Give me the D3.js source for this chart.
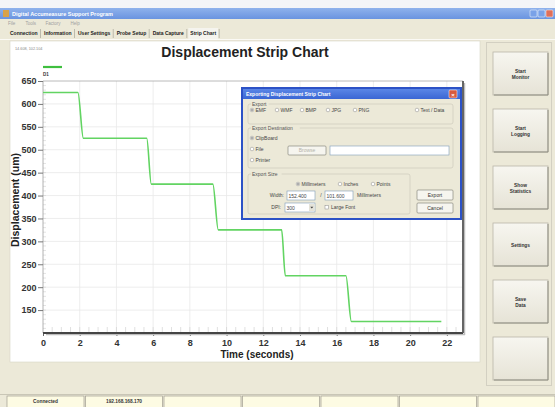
<!DOCTYPE html>
<html>
<head>
<meta charset="utf-8">
<script src="https://cdn.jsdelivr.net/npm/d3@7"></script>
<style>
  body { margin: 0; background: #ece9d8; }
  svg { display: block; font-family: "Liberation Sans", Arial, sans-serif; }
</style>
</head>
<body>
<svg id="chart" width="555" height="407"></svg>
<script>
// --- Data ---
const timeSec = [0, 1.9, 2.2, 5.65, 5.9, 9.25, 9.55, 13.0, 13.2, 16.5, 16.8, 21.7];
const dispUm  = [625, 625, 525, 525, 425, 425, 325, 325, 225, 225, 125, 125];
const yTicks = [150, 200, 250, 300, 350, 400, 450, 500, 550, 600, 650];
const xTicks = [0, 2, 4, 6, 8, 10, 12, 14, 16, 18, 20, 22];
const menuItems = ["File", "Tools", "Factory", "Help"];
const tabNames = ["Connection", "Information", "User Settings", "Probe Setup", "Data Capture", "Strip Chart"];
const sideButtons = [["Start", "Monitor"], ["Start", "Logging"], ["Show", "Statistics"], ["Settings"], ["Save", "Data"], []];
const statusCells = ["Connected", "192.168.168.170", "", "", "", "", ""];
const exportFormats = ["EMF", "WMF", "BMP", "JPG", "PNG", "Text / Data"];
const destinations = ["ClipBoard", "File", "Printer"];
const sizeUnits = ["Millimeters", "Inches", "Points"];

const svg = d3.select("#chart");
const defs = svg.append("defs");

function grad(id, c1, c2) {
  const g = defs.append("linearGradient").attr("id", id)
    .attr("x1", 0).attr("y1", 0).attr("x2", 0).attr("y2", 1);
  g.append("stop").attr("offset", "0%").attr("stop-color", c1);
  g.append("stop").attr("offset", "100%").attr("stop-color", c2);
}
grad("titleGrad", "#8fb2ec", "#6a94e0");
grad("dlgGrad", "#5a86e6", "#3a66d4");
grad("btnGrad", "#f7f6f0", "#e6e3d6");

// --- Window chrome ---
svg.append("rect").attr("width", 555).attr("height", 407).attr("fill", "#ece9d8");
svg.append("rect").attr("width", 555).attr("height", 8).attr("fill", "#f4f5f8");
svg.append("rect").attr("y", 8).attr("width", 555).attr("height", 11).attr("fill", "url(#titleGrad)");
svg.append("rect").attr("x", 3).attr("y", 10).attr("width", 6).attr("height", 7).attr("fill", "#d9a24a");
svg.append("text").attr("x", 12).attr("y", 16).attr("fill", "#fff")
  .style("font-size", "5.5px").style("font-weight", "bold")
  .text("Digital Accumeasure Support Program");
[["#7aa2e8", 534], ["#7aa2e8", 542], ["#e0705a", 550]].forEach(([c, bx]) => {
  svg.append("rect").attr("x", bx - 4).attr("y", 10).attr("width", 7).attr("height", 7)
    .attr("rx", 1).attr("fill", c).attr("stroke", "#fff").attr("stroke-width", 0.5);
});

// menu
let mx = 8;
menuItems.forEach(m => {
  svg.append("text").attr("x", mx).attr("y", 24.5).attr("fill", "#a0a0a0")
    .style("font-size", "4.5px").text(m);
  mx += m.length * 2.6 + 7;
});

// tabs, laid out one after another
svg.append("line").attr("x1", 0).attr("x2", 555).attr("y1", 39.5).attr("y2", 39.5).attr("stroke", "#fbfaf5");
let tx = 10;
tabNames.forEach((t, i) => {
  const bg = svg.append("rect").attr("y", 28).attr("height", 11).attr("fill", "#f5f4ee")
    .style("display", i === tabNames.length - 1 ? null : "none");
  const label = svg.append("text").attr("x", tx).attr("y", 35).attr("fill", "#222")
    .style("font-size", "5px").style("font-weight", "bold").text(t);
  const w = label.node().getComputedTextLength();
  bg.attr("x", tx - 2).attr("width", w + 4);
  svg.append("line").attr("x1", tx + w + 3).attr("x2", tx + w + 3).attr("y1", 29).attr("y2", 38)
    .attr("stroke", "#a8a69a").attr("stroke-width", 0.7);
  tx += w + 6.5;
});

// white chart panel
svg.append("rect").attr("x", 10).attr("y", 41).attr("width", 470).attr("height", 321)
  .attr("fill", "#fff").attr("stroke", "#d8d5c6").attr("stroke-width", 0.6);

// right button panel
svg.append("rect").attr("x", 486.5).attr("y", 42.5).attr("width", 65).attr("height", 343)
  .attr("fill", "#ece9d8").attr("stroke", "#d3d0c2");
sideButtons.forEach((lines, i) => {
  const by = 52 + i * 57;
  svg.append("rect").attr("x", 493).attr("y", by).attr("width", 55).attr("height", 43)
    .attr("fill", "url(#btnGrad)").attr("stroke", "#b9b6a8").attr("stroke-width", 0.8);
  svg.append("line").attr("x1", 494).attr("x2", 548).attr("y1", by + 43).attr("y2", by + 43)
    .attr("stroke", "#8f8d82").attr("stroke-width", 1);
  svg.append("line").attr("x1", 548).attr("x2", 548).attr("y1", by + 1).attr("y2", by + 43)
    .attr("stroke", "#8f8d82").attr("stroke-width", 1);
  lines.forEach((l, j) => {
    svg.append("text").attr("x", 520.5).attr("y", by + 22 + (j - (lines.length - 1) / 2) * 5.5 + 1.8)
      .attr("text-anchor", "middle").attr("fill", "#333")
      .style("font-size", "4.8px").style("font-weight", "bold").text(l);
  });
});

// status bar
svg.append("line").attr("x1", 0).attr("x2", 555).attr("y1", 394.5).attr("y2", 394.5).attr("stroke", "#c9c6b6");
statusCells.forEach((s, i) => {
  const cx = 7 + i * 78.5;
  svg.append("rect").attr("x", cx).attr("y", 396).attr("width", 77).attr("height", 12)
    .attr("fill", "#fdfbe3").attr("stroke", "#a09d90").attr("stroke-width", 0.7);
  if (s) svg.append("text").attr("x", cx + 38.5).attr("y", 403).attr("text-anchor", "middle")
    .attr("fill", "#333").style("font-size", "4.8px").style("font-weight", "bold").text(s);
});

// --- Chart ---
const x = d3.scaleLinear().domain([0, 22.88]).range([43, 463]);
const y = d3.scaleLinear().domain([100, 650]).range([333, 81]);
const plot = svg.append("g");

// grid
plot.selectAll("line.vgrid").data(xTicks.slice(1)).join("line")
  .attr("x1", d => x(d)).attr("x2", d => x(d)).attr("y1", y(650)).attr("y2", y(100))
  .attr("stroke", "#e9e9e9").attr("stroke-width", 0.8);
plot.selectAll("line.hgrid").data(yTicks.slice(0, -1)).join("line")
  .attr("x1", x(0)).attr("x2", x.range()[1]).attr("y1", d => y(d)).attr("y2", d => y(d))
  .attr("stroke", "#e9e9e9").attr("stroke-width", 0.8);

// minor ticks
plot.selectAll("line.xminor").data(d3.range(1, 46).map(i => i * 0.5)).join("line")
  .attr("x1", d => x(d)).attr("x2", d => x(d)).attr("y1", y(100) - 6).attr("y2", y(100))
  .attr("stroke", "#d2d2d2").attr("stroke-width", 0.7);
plot.selectAll("line.yminor").data(d3.range(11, 65).map(i => i * 10)).join("line")
  .attr("x1", x(0)).attr("x2", x(0) + 3).attr("y1", d => y(d)).attr("y2", d => y(d))
  .attr("stroke", "#d2d2d2").attr("stroke-width", 0.6);

// frame
plot.append("line").attr("x1", x(0)).attr("x2", x.range()[1]).attr("y1", y(650)).attr("y2", y(650))
  .attr("stroke", "#a8a8a8").attr("stroke-width", 0.8);

// y axis
const yAxis = plot.append("g").attr("transform", `translate(${x(0)},0)`)
  .call(d3.axisLeft(y).tickValues(yTicks).tickSize(5).tickPadding(1.5));
yAxis.select(".domain").attr("stroke", "#a0a0a0").attr("stroke-width", 0.8)
  .attr("d", `M0,${y(650)}V${y(100)}`);
yAxis.selectAll(".tick line").attr("stroke", "#777");
yAxis.selectAll("text").attr("fill", "#333").style("font-size", "9px").style("font-weight", "bold")
  .style("font-family", "'Liberation Sans', Arial, sans-serif");

// x axis
const xAxis = plot.append("g").attr("transform", `translate(0,${y(100)})`)
  .call(d3.axisBottom(x).tickValues(xTicks).tickSize(3).tickPadding(4));
xAxis.select(".domain").remove();
xAxis.selectAll(".tick line").attr("stroke", "#666");
xAxis.selectAll("text").attr("fill", "#333").style("font-size", "9px").style("font-weight", "bold")
  .style("font-family", "'Liberation Sans', Arial, sans-serif");

// heavy bottom and right border with shadow
plot.append("line").attr("x1", x(0) + 3).attr("x2", x.range()[1] + 2).attr("y1", y(100) + 1.5).attr("y2", y(100) + 1.5)
  .attr("stroke", "#bdbdbd").attr("stroke-width", 1.5);
plot.append("line").attr("x1", x.range()[1] + 1.5).attr("x2", x.range()[1] + 1.5).attr("y1", y(650) + 2).attr("y2", y(100) + 2)
  .attr("stroke", "#bdbdbd").attr("stroke-width", 1.5);
plot.append("line").attr("x1", x(0)).attr("x2", x.range()[1]).attr("y1", y(100)).attr("y2", y(100))
  .attr("stroke", "#444").attr("stroke-width", 1.8);
plot.append("line").attr("x1", x.range()[1]).attr("x2", x.range()[1]).attr("y1", y(650)).attr("y2", y(100))
  .attr("stroke", "#555").attr("stroke-width", 1.8);

// data line
const pts = timeSec.map((t, i) => ({ t, v: dispUm[i] }));
plot.append("path").datum(pts)
  .attr("fill", "none").attr("stroke", "#62d462").attr("stroke-width", 1.6)
  .attr("d", d3.line().x(d => x(d.t)).y(d => y(d.v)).curve(d3.curveMonotoneX));

// titles
svg.append("text").attr("x", 245).attr("y", 57).attr("text-anchor", "middle").attr("fill", "#222")
  .style("font-size", "14px").style("font-weight", "bold").text("Displacement Strip Chart");
svg.append("text").attr("x", 15).attr("y", 50).attr("fill", "#888")
  .style("font-size", "3.8px").text("14.608, 102.104");
svg.append("text").attr("x", 257).attr("y", 358).attr("text-anchor", "middle").attr("fill", "#222")
  .style("font-size", "10px").style("font-weight", "bold").text("Time (seconds)");
svg.append("text").attr("transform", "translate(19,200) rotate(-90)").attr("text-anchor", "middle")
  .attr("fill", "#222").style("font-size", "10.5px").style("font-weight", "bold").text("Displacement (um)");

// legend
svg.append("line").attr("x1", 43).attr("x2", 62).attr("y1", 67).attr("y2", 67)
  .attr("stroke", "#3fbf3f").attr("stroke-width", 2.2);
svg.append("text").attr("x", 43).attr("y", 76).attr("fill", "#333")
  .style("font-size", "4.5px").style("font-weight", "bold").text("D1");

// --- Export dialog ---
const dlg = svg.append("g").style("font-size", "5px");
dlg.append("rect").attr("x", 242).attr("y", 88).attr("width", 219).attr("height", 131)
  .attr("fill", "#ece9d8").attr("stroke", "#2c52c6").attr("stroke-width", 2);
dlg.append("rect").attr("x", 243).attr("y", 89).attr("width", 217).attr("height", 10).attr("fill", "url(#dlgGrad)");
dlg.append("text").attr("x", 246).attr("y", 96).attr("fill", "#fff").style("font-weight", "bold")
  .text("Exporting Displacement Strip Chart");
dlg.append("rect").attr("x", 449).attr("y", 90).attr("width", 8).attr("height", 8).attr("rx", 1)
  .attr("fill", "#d85a3c").attr("stroke", "#fff").attr("stroke-width", 0.5);
dlg.append("text").attr("x", 453).attr("y", 96.5).attr("text-anchor", "middle").attr("fill", "#fff")
  .style("font-size", "6px").style("font-weight", "bold").text("×");

function groupBox(gx, gy, gw, gh, label) {
  dlg.append("rect").attr("x", gx).attr("y", gy).attr("width", gw).attr("height", gh).attr("rx", 2)
    .attr("fill", "none").attr("stroke", "#cfccbd").attr("stroke-width", 0.7);
  dlg.append("rect").attr("x", gx + 3).attr("y", gy - 2).attr("width", label.length * 2.6 + 2).attr("height", 4)
    .attr("fill", "#ece9d8");
  dlg.append("text").attr("x", gx + 4).attr("y", gy + 1.5).attr("fill", "#555").text(label);
}
function radio(rx, ry, label, on) {
  dlg.append("circle").attr("cx", rx).attr("cy", ry).attr("r", 1.8)
    .attr("fill", "#fff").attr("stroke", "#8a8a8a").attr("stroke-width", 0.5);
  if (on) dlg.append("circle").attr("cx", rx).attr("cy", ry).attr("r", 0.8).attr("fill", "#444");
  dlg.append("text").attr("x", rx + 3.5).attr("y", ry + 1.8).attr("fill", "#444").text(label);
}
function field(fx, fy, fw, fh, val) {
  dlg.append("rect").attr("x", fx).attr("y", fy).attr("width", fw).attr("height", fh)
    .attr("fill", "#fff").attr("stroke", "#7f9db9").attr("stroke-width", 0.6);
  if (val) dlg.append("text").attr("x", fx + 1.5).attr("y", fy + fh - 2.3).attr("fill", "#444").text(val);
}
function button(bx, by, bw, bh, label, fg) {
  dlg.append("rect").attr("x", bx).attr("y", by).attr("width", bw).attr("height", bh).attr("rx", 1)
    .attr("fill", "#f6f5ef").attr("stroke", "#7a786e").attr("stroke-width", 0.6);
  dlg.append("text").attr("x", bx + bw / 2).attr("y", by + bh / 2 + 1.8).attr("text-anchor", "middle")
    .attr("fill", fg).text(label);
}

groupBox(248, 104, 205, 20, "Export");
const fmtX = [252, 277, 302, 328, 355, 417];
exportFormats.forEach((f, i) => radio(fmtX[i], 110, f, i === 0));

groupBox(248, 128, 205, 40, "Export Destination");
destinations.forEach((d, i) => radio(252, 138 + i * 11, d, i === 0));
button(288, 146, 38, 9, "Browse", "#b5b3aa");
field(330, 146, 119, 9, "");

groupBox(248, 174, 162, 40, "Export Size");
const unitX = [298, 340, 373];
sizeUnits.forEach((u, i) => radio(unitX[i], 184, u, i === 0));
dlg.append("text").attr("x", 284).attr("y", 197).attr("text-anchor", "end").attr("fill", "#444").text("Width:");
field(287, 191, 28, 9, "152.400");
dlg.append("text").attr("x", 321).attr("y", 197).attr("text-anchor", "middle").attr("fill", "#444").text("/");
field(325, 191, 28, 9, "101.600");
dlg.append("text").attr("x", 357).attr("y", 197).attr("fill", "#444").text("Millimeters");
dlg.append("text").attr("x", 281).attr("y", 209).attr("text-anchor", "end").attr("fill", "#444").text("DPI:");
field(285, 203, 30, 9, "300");
dlg.append("rect").attr("x", 309).attr("y", 204).attr("width", 5.5).attr("height", 7).attr("fill", "#e4e2d8");
dlg.append("path").attr("d", "M310.3,206.8h3l-1.5,1.8z").attr("fill", "#444");
dlg.append("rect").attr("x", 325).attr("y", 205.5).attr("width", 3.5).attr("height", 3.5)
  .attr("fill", "#fff").attr("stroke", "#8a8a8a").attr("stroke-width", 0.5);
dlg.append("text").attr("x", 331).attr("y", 209).attr("fill", "#444").text("Large Font");

button(417, 190, 36, 10, "Export", "#333");
button(417, 203, 36, 10, "Cancel", "#333");
</script>
</body>
</html>
